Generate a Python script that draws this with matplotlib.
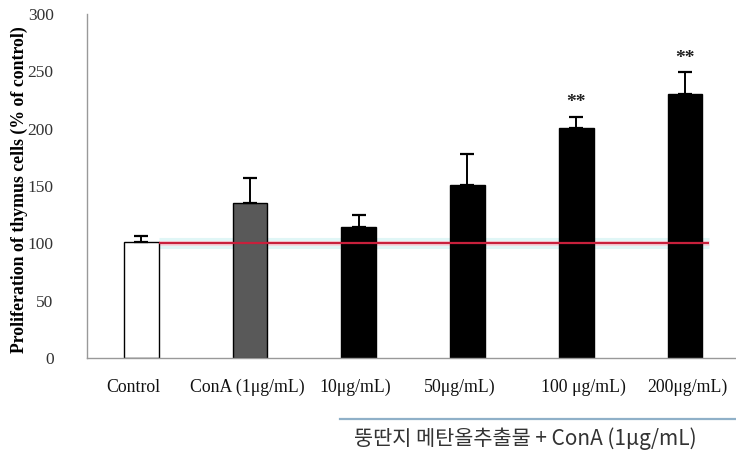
import matplotlib
matplotlib.use("Agg")
import matplotlib.pyplot as plt
import numpy as np

# Data
categories = ["Control", "ConA (1\u03bcg/mL)", "10\u03bcg/mL)", "50\u03bcg/mL)",
              "100 \u03bcg/mL)", "200\u03bcg/mL)"]
means = [101, 135, 114, 151, 201, 230]
errors = [5, 22, 11, 27, 9, 19]
significance = ["", "", "", "", "**", "**"]
y_ticks = [0, 50, 100, 150, 200, 250, 300]
baseline = 100
group_label = "뚱딴지 메탄올추출물 + ConA (1\u03bcg/mL)"

bar_colors = ["white", "#595959", "black", "black", "black", "black"]

W, H, DPI = 736, 459, 100
fig = plt.figure(figsize=(W / DPI, H / DPI), dpi=DPI)
fig.patch.set_facecolor("white")

# axes placement in pixels
left_px, right_px, top_px, bottom_px = 87, 736, 14, 358
ax = fig.add_axes([left_px / W, 1 - bottom_px / H,
                   (right_px - left_px) / W, (bottom_px - top_px) / H])

x = np.arange(len(categories))
ax.bar(x, means, width=0.32, color=bar_colors, edgecolor="black",
       linewidth=1.0, zorder=2)
ax.errorbar(x, means, yerr=[np.zeros(len(errors)), errors], fmt="none",
            ecolor="black", elinewidth=1.4, capsize=5, capthick=1.6, zorder=3)

# reference line at control level, with a soft halo behind the bars
ax.plot([0.16, 5.22], [baseline, baseline], color="#e0f6f6", lw=8,
        solid_capstyle="butt", zorder=1)
ax.plot([0.16, 5.22], [baseline, baseline], color="#f6d4dc", lw=3.5,
        solid_capstyle="butt", zorder=1)
ax.plot([0.16, 5.22], [baseline, baseline], color="#c8203c", lw=1.6,
        solid_capstyle="butt", zorder=4)

for xi, m, e, s in zip(x, means, errors, significance):
    if s:
        ax.text(xi, m + e + 5, s, ha="center", va="bottom", fontsize=14,
                family="Liberation Serif", fontweight="bold", color="#222222")

ax.set_xlim(-0.5, 5.47)
ax.set_ylim(0, 300)
ax.set_yticks(y_ticks)
ax.set_yticklabels([str(t) for t in y_ticks], family="Liberation Serif",
                   fontsize=12.5, color="#333333")
ax.tick_params(axis="y", length=0, pad=24)
ax.set_xticks([])
for side in ("top", "right"):
    ax.spines[side].set_visible(False)
ax.spines["left"].set_color("#999999")
ax.spines["bottom"].set_color("#999999")
ax.spines["left"].set_linewidth(1.0)
ax.spines["bottom"].set_linewidth(1.0)

ax.set_ylabel("Proliferation of thymus cells (% of control)",
              family="Liberation Serif", fontweight="bold", fontsize=12.8,
              va="center")
ax.yaxis.set_label_coords((19 - left_px) / (right_px - left_px), 0.49)

# category labels beneath the axis
label_x_px = [133, 247, 355, 460, 583, 687]
for lx, lab in zip(label_x_px, categories):
    fig.text(lx / W, 1 - 387 / H, lab, ha="center", va="center",
             family="Liberation Serif", fontsize=12.8, color="#111111")

# bracket line and group caption for the extract-treated groups
fig.add_artist(plt.Line2D([340 / W, 1.0], [1 - 419 / H, 1 - 419 / H],
                          color="#8fb0c8", lw=1.6))
fig.text(525 / W, 1 - 439 / H, group_label, ha="center", va="center",
         family=["Noto Sans CJK KR", "DejaVu Sans"], fontsize=15,
         color="#333333")

fig.savefig("out.png", dpi=DPI, facecolor="white")
